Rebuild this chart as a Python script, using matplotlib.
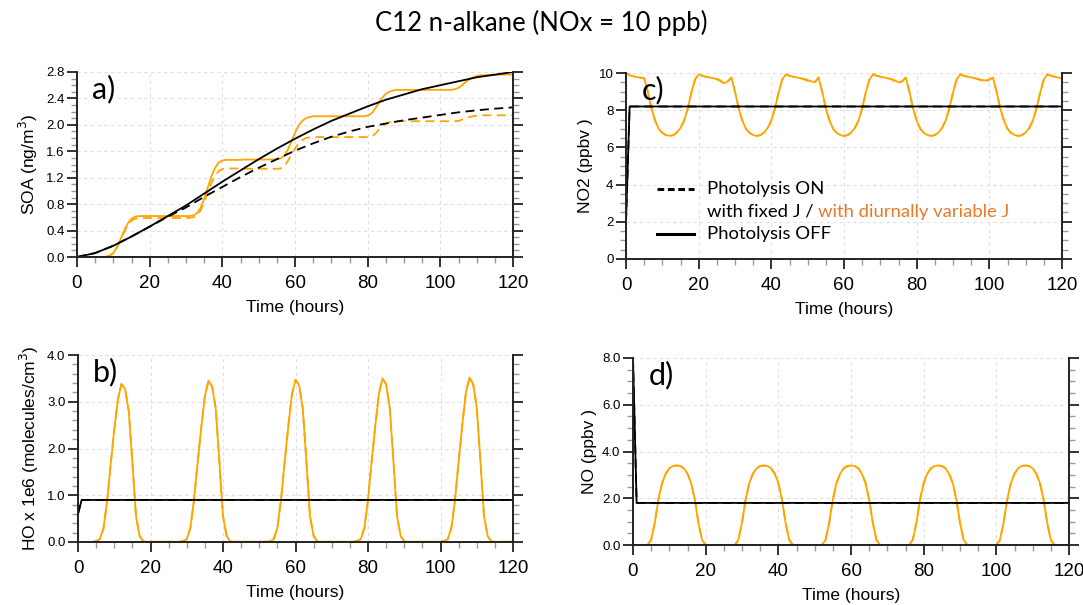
import numpy as np
import matplotlib
matplotlib.use("Agg")
import matplotlib.pyplot as plt
from matplotlib.lines import Line2D
from matplotlib.ticker import MultipleLocator, FormatStrFormatter

# ---------------- data ----------------
hours = np.arange(0, 121)          # model time (hours), hourly output

# Panel a) SOA (ng/m3)
soa_coarse_t = [0, 5, 10, 15, 20, 25, 30, 35, 40, 45, 50, 55, 60, 65, 70, 75, 80,
                85, 90, 95, 100, 105, 110, 115, 120]
soa_off_fixed = [0.0, 0.06, 0.17, 0.31, 0.46, 0.62, 0.78, 0.96, 1.14, 1.31, 1.48, 1.64,
                 1.79, 1.93, 2.06, 2.17, 2.28, 2.38, 2.46, 2.54, 2.60, 2.66, 2.72, 2.76, 2.80]
soa_on_fixed = [0.0, 0.06, 0.17, 0.31, 0.46, 0.61, 0.75, 0.91, 1.06, 1.21, 1.35, 1.48,
                1.61, 1.72, 1.82, 1.90, 1.97, 2.02, 2.07, 2.11, 2.15, 2.19, 2.22, 2.245, 2.265]
soa_off_var = [
    0, 0, 0, 0, 0, 0, 0, 0, 0.005, 0.02,                 # 0-9
    0.06, 0.15, 0.27, 0.40, 0.51, 0.58, 0.61, 0.62, 0.62, 0.62,   # 10-19
    0.62, 0.62, 0.62, 0.62, 0.62, 0.62, 0.62, 0.62, 0.62, 0.62,   # 20-29
    0.62, 0.62, 0.63, 0.66, 0.74, 0.88, 1.05, 1.22, 1.35, 1.43,   # 30-39
    1.46, 1.47, 1.47, 1.47, 1.47, 1.47, 1.475, 1.475, 1.475, 1.475,  # 40-49
    1.475, 1.475, 1.475, 1.475, 1.475, 1.48, 1.49, 1.53, 1.62, 1.75,  # 50-59
    1.88, 1.99, 2.06, 2.10, 2.12, 2.13, 2.13, 2.13, 2.13, 2.13,   # 60-69
    2.13, 2.13, 2.13, 2.13, 2.13, 2.13, 2.13, 2.13, 2.13, 2.13,   # 70-79
    2.14, 2.17, 2.24, 2.33, 2.41, 2.47, 2.50, 2.52, 2.53, 2.53,   # 80-89
    2.53, 2.53, 2.53, 2.53, 2.53, 2.53, 2.53, 2.53, 2.53, 2.53,   # 90-99
    2.53, 2.53, 2.53, 2.53, 2.54, 2.56, 2.60, 2.65, 2.69, 2.72,   # 100-109
    2.74, 2.75, 2.75, 2.755, 2.755, 2.755, 2.76, 2.76, 2.76, 2.76, 2.76]  # 110-120
soa_on_var = [
    0, 0, 0, 0, 0, 0, 0, 0, 0.005, 0.02,
    0.06, 0.14, 0.26, 0.38, 0.49, 0.55, 0.58, 0.59, 0.59, 0.59,
    0.59, 0.59, 0.59, 0.59, 0.59, 0.59, 0.59, 0.59, 0.59, 0.59,
    0.59, 0.595, 0.60, 0.63, 0.70, 0.83, 0.98, 1.12, 1.23, 1.30,
    1.33, 1.34, 1.34, 1.34, 1.34, 1.335, 1.335, 1.335, 1.335, 1.335,
    1.335, 1.335, 1.335, 1.335, 1.335, 1.335, 1.34, 1.37, 1.45, 1.55,
    1.64, 1.72, 1.77, 1.80, 1.81, 1.815, 1.815, 1.815, 1.815, 1.815,
    1.815, 1.815, 1.815, 1.815, 1.815, 1.815, 1.815, 1.815, 1.815, 1.815,
    1.815, 1.82, 1.86, 1.92, 1.98, 2.02, 2.04, 2.05, 2.055, 2.055,
    2.055, 2.055, 2.055, 2.055, 2.055, 2.055, 2.055, 2.055, 2.055, 2.055,
    2.055, 2.055, 2.055, 2.055, 2.055, 2.06, 2.08, 2.10, 2.12, 2.13,
    2.14, 2.145, 2.145, 2.145, 2.145, 2.145, 2.145, 2.145, 2.145, 2.145, 2.145]

# Panel b) HO x 1e6 (molecules/cm3)
ho_fixed_t = [0, 1, 120]
ho_fixed = [0.6, 0.9, 0.9]
ho_var = [
    0, 0, 0, 0, 0, 0.02, 0.06, 0.28, 0.85, 1.65,
    2.40, 3.05, 3.38, 3.27, 2.80, 1.70, 0.55, 0.13, 0.01, 0.005,
    0.005, 0.005, 0.005, 0.005, 0.005, 0.005, 0.005, 0.005, 0.005, 0.02,
    0.06, 0.30, 0.90, 1.70, 2.45, 3.12, 3.45, 3.33, 2.85, 1.72,
    0.55, 0.13, 0.01, 0.005, 0.005, 0.005, 0.005, 0.005, 0.005, 0.005,
    0.005, 0.005, 0.005, 0.02, 0.06, 0.30, 0.90, 1.70, 2.47, 3.15,
    3.47, 3.35, 2.86, 1.73, 0.55, 0.13, 0.01, 0.005, 0.005, 0.005,
    0.005, 0.005, 0.005, 0.005, 0.005, 0.005, 0.005, 0.02, 0.06, 0.30,
    0.90, 1.72, 2.48, 3.17, 3.50, 3.37, 2.87, 1.74, 0.56, 0.13,
    0.01, 0.005, 0.005, 0.005, 0.005, 0.005, 0.005, 0.005, 0.005, 0.005,
    0.005, 0.02, 0.06, 0.30, 0.90, 1.72, 2.50, 3.20, 3.52, 3.38,
    2.88, 1.75, 0.56, 0.13, 0.01, 0.005, 0.005, 0.005, 0.005, 0.005, 0.005]

# Panel c) NO2 (ppbv)
no2_fixed_t = [0, 1, 120]
no2_fixed = [2.0, 8.2, 8.2]
no2_off_var = [
    10.0, 9.88, 9.82, 9.78, 9.75, 9.72, 9.00, 8.10, 7.45, 7.00,
    6.78, 6.66, 6.62, 6.66, 6.80, 7.05, 7.45, 8.10, 8.95, 9.65,
    9.93, 9.85, 9.80, 9.76, 9.72, 9.68, 9.60, 9.45, 9.55, 9.75,
    9.00, 8.10, 7.45, 7.00, 6.78, 6.66, 6.62, 6.66, 6.80, 7.05,
    7.45, 8.10, 8.95, 9.65, 9.93, 9.85, 9.80, 9.76, 9.72, 9.68,
    9.62, 9.55, 9.52, 9.75, 9.00, 8.10, 7.45, 7.00, 6.78, 6.66,
    6.62, 6.66, 6.80, 7.05, 7.45, 8.10, 8.95, 9.65, 9.93, 9.85,
    9.80, 9.76, 9.72, 9.68, 9.60, 9.50, 9.55, 9.75, 9.00, 8.10,
    7.45, 7.00, 6.78, 6.66, 6.62, 6.66, 6.80, 7.05, 7.45, 8.10,
    8.95, 9.65, 9.93, 9.85, 9.80, 9.76, 9.72, 9.68, 9.62, 9.60,
    9.65, 9.75, 9.00, 8.10, 7.45, 7.00, 6.78, 6.66, 6.62, 6.66,
    6.80, 7.05, 7.45, 8.10, 8.95, 9.65, 9.93, 9.85, 9.80, 9.76, 9.70]
no2_on_var = [
    10.0, 9.88, 9.82, 9.78, 9.75, 9.72, 9.00, 8.10, 7.45, 7.00,
    6.78, 6.66, 6.62, 6.66, 6.80, 7.05, 7.45, 8.10, 8.95, 9.65,
    9.93, 9.85, 9.80, 9.76, 9.72, 9.66, 9.56, 9.40, 9.55, 9.75,
    9.00, 8.10, 7.45, 7.00, 6.78, 6.66, 6.62, 6.66, 6.80, 7.05,
    7.45, 8.10, 8.95, 9.65, 9.93, 9.85, 9.80, 9.76, 9.72, 9.66,
    9.58, 9.48, 9.50, 9.75, 9.00, 8.10, 7.45, 7.00, 6.78, 6.66,
    6.62, 6.66, 6.80, 7.05, 7.45, 8.10, 8.95, 9.65, 9.93, 9.85,
    9.80, 9.76, 9.72, 9.66, 9.56, 9.46, 9.55, 9.75, 9.00, 8.10,
    7.45, 7.00, 6.78, 6.66, 6.62, 6.66, 6.80, 7.05, 7.45, 8.10,
    8.95, 9.65, 9.93, 9.85, 9.80, 9.76, 9.72, 9.66, 9.56, 9.52,
    9.65, 9.75, 9.00, 8.10, 7.45, 7.00, 6.78, 6.66, 6.62, 6.66,
    6.80, 7.05, 7.45, 8.10, 8.95, 9.65, 9.93, 9.85, 9.80, 9.76, 9.70]

# Panel d) NO (ppbv)
no_fixed_t = [0, 1, 120]
no_fixed = [8.0, 1.8, 1.8]
no_var = [
    0, 0, 0, 0, 0, 0.22, 0.95, 1.95, 2.65, 3.05,
    3.28, 3.38, 3.40, 3.38, 3.28, 3.05, 2.65, 1.95, 0.95, 0.22,
    0, 0, 0, 0, 0, 0, 0, 0, 0, 0.22,
    0.95, 1.95, 2.65, 3.05, 3.28, 3.38, 3.40, 3.38, 3.28, 3.05,
    2.65, 1.95, 0.95, 0.22, 0, 0, 0, 0, 0, 0,
    0, 0, 0, 0.22, 0.95, 1.95, 2.65, 3.05, 3.28, 3.38,
    3.40, 3.38, 3.28, 3.05, 2.65, 1.95, 0.95, 0.22, 0, 0,
    0, 0, 0, 0, 0, 0, 0, 0.22, 0.95, 1.95,
    2.65, 3.05, 3.28, 3.38, 3.40, 3.38, 3.28, 3.05, 2.65, 1.95,
    0.95, 0.22, 0, 0, 0, 0, 0, 0, 0, 0,
    0, 0.22, 0.95, 1.95, 2.65, 3.05, 3.28, 3.38, 3.40, 3.38,
    3.28, 3.05, 2.65, 1.95, 0.95, 0.22, 0, 0, 0, 0, 0]

x_ticks = [0, 20, 40, 60, 80, 100, 120]

# ---------------- style ----------------
ORANGE = "#FFA500"
ORANGE_TXT = "#E8782A"
AXFONT = "Liberation Sans"
LABFONT = "Lato"
DASH = (5, 3)

fig = plt.figure(figsize=(10.83, 6.05), dpi=100)


def make_ax(rect, ymax, ymajor, yminor, yfmt, ylabel, panel):
    ax = fig.add_axes(rect)
    ax.set_xlim(0, 120)
    ax.set_ylim(0, ymax)
    ax.set_xticks(x_ticks)
    ax.xaxis.set_minor_locator(MultipleLocator(5))
    ax.yaxis.set_major_locator(MultipleLocator(ymajor))
    ax.yaxis.set_minor_locator(MultipleLocator(yminor))
    ax.yaxis.set_major_formatter(FormatStrFormatter(yfmt))
    ax.spines["top"].set_visible(False)
    for s in ["left", "right", "bottom"]:
        ax.spines[s].set_linewidth(1.4)
        ax.spines[s].set_color("#222222")
    ax.tick_params(axis="both", which="major", direction="out", length=7,
                   width=1.3, color="#222222")
    ax.tick_params(axis="both", which="minor", direction="out", length=4,
                   width=1.0, color="#999999")
    ax.tick_params(axis="y", which="both", left=True, right=True, labelright=False)
    ax.tick_params(axis="x", which="both", top=False)
    ax.tick_params(axis="y", which="major", labelsize=9.5, pad=2)
    ax.tick_params(axis="x", which="major", labelsize=13.5, pad=6)
    for lab in ax.get_xticklabels() + ax.get_yticklabels():
        lab.set_fontfamily(AXFONT)
    ax.grid(True, which="major", color="#e0e0e0", linestyle=(0, (3, 3)), linewidth=0.8)
    ax.set_axisbelow(True)
    ax.set_xlabel("Time (hours)", fontsize=12.5, family=AXFONT, labelpad=6)
    ax.set_ylabel(ylabel, fontsize=12.5, family=AXFONT, labelpad=4)
    ax.text(0.035, 0.985, panel, transform=ax.transAxes, fontsize=22,
            family=LABFONT, va="top", ha="left")
    return ax


# a) SOA
ax_a = make_ax([77 / 1083, (605 - 257) / 605, 436 / 1083, 185 / 605],
               2.8, 0.4, 0.1, "%.1f", "SOA (ng/m$^3$)", "a)")
ax_a.plot(hours, soa_on_var, color=ORANGE, lw=1.3, dashes=DASH)
ax_a.plot(hours, soa_off_var, color=ORANGE, lw=1.3)
ax_a.plot(soa_coarse_t, soa_on_fixed, color="black", lw=1.3, dashes=DASH)
ax_a.plot(soa_coarse_t, soa_off_fixed, color="black", lw=1.3)

# b) HO
ax_b = make_ax([78 / 1083, (605 - 542) / 605, 435 / 1083, 187 / 605],
               4.0, 1.0, 0.2, "%.1f", "HO x 1e6 (molecules/cm$^3$)", "b)")
ax_b.plot(hours, ho_var, color=ORANGE, lw=1.3, dashes=DASH)
ax_b.plot(hours, ho_var, color=ORANGE, lw=1.3)
ax_b.plot(ho_fixed_t, ho_fixed, color="black", lw=1.3, dashes=DASH)
ax_b.plot(ho_fixed_t, ho_fixed, color="black", lw=1.3)

# c) NO2
ax_c = make_ax([626 / 1083, (605 - 259) / 605, 436 / 1083, 186 / 605],
               10, 2, 0.5, "%d", "NO2 (ppbv )", "c)")
ax_c.plot(hours, no2_on_var, color=ORANGE, lw=1.3, dashes=DASH)
ax_c.plot(hours, no2_off_var, color=ORANGE, lw=1.3)
ax_c.plot(no2_fixed_t, no2_fixed, color="black", lw=1.3, dashes=DASH)
ax_c.plot(no2_fixed_t, no2_fixed, color="black", lw=1.3)

# legend (inside panel c)
lx0, lx1, tx = 0.07, 0.155, 0.185
ax_c.add_line(Line2D([lx0, lx1], [0.375, 0.375], transform=ax_c.transAxes,
                     color="black", lw=2.2, dashes=(2.2, 1.2)))
ax_c.text(tx, 0.375, "Photolysis ON", transform=ax_c.transAxes, fontsize=13.3,
          family=LABFONT, va="center")
t1 = ax_c.text(tx, 0.255, "with fixed J / ", transform=ax_c.transAxes, fontsize=13.3,
               family=LABFONT, va="center")
ax_c.annotate("with diurnally variable J", xycoords=t1, xy=(1, 0.5), va="center",
              fontsize=13.3, family=LABFONT, color=ORANGE_TXT)
ax_c.add_line(Line2D([lx0, lx1], [0.135, 0.135], transform=ax_c.transAxes,
                     color="black", lw=2.2))
ax_c.text(tx, 0.135, "Photolysis OFF", transform=ax_c.transAxes, fontsize=13.3,
          family=LABFONT, va="center")

# d) NO
ax_d = make_ax([633 / 1083, (605 - 545) / 605, 436 / 1083, 187 / 605],
               8.0, 2.0, 0.5, "%.1f", "NO (ppbv )", "d)")
ax_d.plot(hours, no_var, color=ORANGE, lw=1.3, dashes=DASH)
ax_d.plot(hours, no_var, color=ORANGE, lw=1.3)
ax_d.plot(no_fixed_t, no_fixed, color="black", lw=1.3, dashes=DASH)
ax_d.plot(no_fixed_t, no_fixed, color="black", lw=1.3)

fig.text(0.5, 0.962, "C12 n-alkane (NOx = 10 ppb)", ha="center", va="center",
         fontsize=18.5, family=LABFONT)

fig.savefig("out.png", dpi=100)
